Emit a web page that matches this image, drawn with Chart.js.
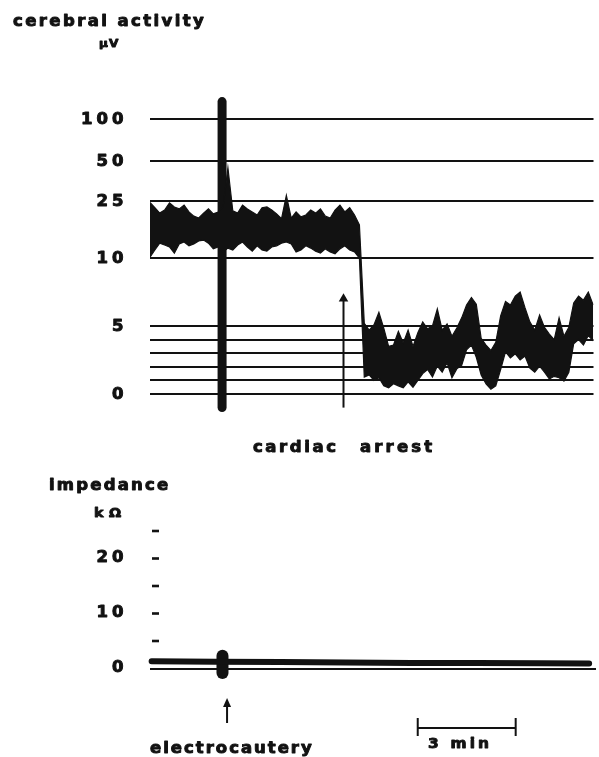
<!DOCTYPE html>
<html>
<head>
<meta charset="utf-8">
<script src="https://cdn.jsdelivr.net/npm/chart.js@4.4.1/dist/chart.umd.min.js"></script>
<style>
  html, body { margin: 0; padding: 0; background: #fff; }
  #wrap { position: relative; width: 599px; height: 757px; background: #fff; }
  canvas { position: absolute; left: 0; top: 0; }
</style>
</head>
<body>
<div id="wrap">
  <canvas id="eegChart" width="599" height="757"></canvas>
  <canvas id="impChart" width="599" height="757"></canvas>
</div>
<script>
const INK = "#121212";

// --- cerebral activity (µV), upper and lower edge of the trace, one sample every 0.15 min ---
const sampleStep = 0.15;
const activityHigh = [
  24.6, 23.2, 21.8, 22.6, 24.5, 23.4, 22.9, 23.9, 22.1, 21.0,
  20.5, 21.8, 22.9, 21.6, 22.1, 23.4, 46.0, 22.4, 21.8, 23.9,
  22.9, 22.1, 21.3, 23.2, 23.4, 22.6, 21.6, 20.3, 28.5, 20.5,
  22.1, 20.8, 21.3, 22.6, 21.8, 22.9, 21.0, 20.5, 22.6, 23.9,
  22.1, 23.2, 21.3, 18.7,
  5.2, 4.7, 5.1, 6.0, 4.85, 3.5, 3.6, 4.6, 3.75, 4.7,
  3.5, 4.5, 5.3, 4.8, 5.0, 6.25, 4.7, 5.15, 4.25, 4.85,
  5.6, 6.55, 7.1, 6.6, 4.1, 3.6, 3.2, 3.8, 5.75, 6.8,
  6.55, 7.2, 7.5, 6.35, 5.3, 4.7, 5.8, 4.9, 4.4, 4.0,
  5.6, 4.25, 4.9, 6.7, 7.2, 6.9, 7.5, 6.55
];
const activityLow = [
  10.2, 12.1, 13.9, 13.4, 12.9, 11.3, 13.7, 14.2, 13.2, 13.7,
  14.5, 14.7, 13.9, 12.4, 12.9, 11.6, 12.6, 12.1, 13.4, 14.2,
  12.9, 11.8, 13.2, 12.1, 11.8, 12.9, 13.2, 13.9, 14.2, 13.7,
  11.6, 12.1, 13.2, 12.6, 11.8, 11.3, 12.4, 11.6, 11.1, 12.4,
  13.2, 12.1, 11.6, 10.0,
  1.25, 1.4, 1.0, 1.2, 0.6, 0.45, 0.75, 0.6, 0.45, 0.9,
  0.5, 1.0, 1.5, 1.8, 1.25, 2.05, 1.6, 2.3, 1.2, 1.85,
  2.1, 3.25, 3.6, 2.7, 1.4, 0.75, 0.35, 0.6, 1.8, 3.1,
  2.65, 2.95, 2.5, 2.8, 1.9, 1.6, 2.05, 1.6, 1.1, 1.3,
  1.2, 0.95, 1.6, 3.7, 4.0, 3.6, 4.3, 3.9
];

// electrocautery artefact and cardiac arrest marker (min, µV)
const cauteryTime = 2.22;
const cauterySpan = [-1.0, 121];
const arrestTime = 5.96;
const arrestArrow = [-1.0, 7.0];

// µV axis: gridlines and their labels
const uvTicks = [0, 1, 2, 3, 4, 5, 10, 25, 50, 100];
const uvLabels = ["0", "", "", "", "", "5", "10", "25", "50", "100"];

// --- impedance (kΩ) ---
const impedanceTimes = [0.05, 2.0, 4.0, 6.0, 8.0, 10.0, 12.0, 13.45];
const impedanceValues = [1.3, 1.25, 1.2, 1.1, 1.0, 1.0, 0.95, 0.9];
const cauteryImpedance = [-0.8, 2.3];
const impedanceTicks = [0, 5, 10, 15, 20, 25];
const impedanceLabels = ["0", "", "10", "", "20", ""];

const cauteryArrowTime = 2.36;
const scaleBarStart = 8.2;
const scaleBarMinutes = 3;

// the µV axis is drawn in rows: 1 µV per row up to 5, compressed above
const uvRows = [0, 1, 2, 3, 4, 5, 10, 14.2, 17.1, 20.2];

function uvToRow(v) {
  const n = uvTicks.length;
  let i = 0;
  while (i < n - 2 && v > uvTicks[i + 1]) i++;
  const v0 = uvTicks[i], v1 = uvTicks[i + 1];
  const r0 = uvRows[i], r1 = uvRows[i + 1];
  return r0 + (v - v0) * (r1 - r0) / (v1 - v0);
}

class RowScale extends Chart.LinearScale {
  getPixelForValue(value) {
    if (value === null || value === undefined) return NaN;
    return super.getPixelForValue(uvToRow(value));
  }
}
RowScale.id = "rows";
RowScale.defaults = Chart.LinearScale.defaults;
Chart.register(RowScale);

const toPoints = (arr) => arr.map((v, i) => ({ x: i * sampleStep, y: v }));
const pairAt = (t, arr) => arr.map((v) => ({ x: t, y: v }));

// heavy lettering: glyphs widened a little, then tracked to fit
const STRETCH = 1.1;

function drawWide(ctx, text, left, baseline, size, gap) {
  ctx.save();
  ctx.font = "bold " + size + "px 'DejaVu Sans'";
  ctx.letterSpacing = "0px";
  const m = ctx.measureText(text);
  ctx.translate(left + m.actualBoundingBoxLeft * STRETCH, baseline);
  ctx.scale(STRETCH, 1);
  ctx.letterSpacing = (gap / STRETCH) + "px";
  ctx.fillStyle = INK;
  ctx.strokeStyle = INK;
  ctx.lineWidth = 0.9;
  ctx.lineJoin = "round";
  ctx.textAlign = "left";
  ctx.textBaseline = "alphabetic";
  ctx.fillText(text, 0, 0);
  ctx.strokeText(text, 0, 0);
  ctx.restore();
}

function inkWidth(ctx, text, size) {
  ctx.save();
  ctx.font = "bold " + size + "px 'DejaVu Sans'";
  ctx.letterSpacing = "0px";
  const m = ctx.measureText(text);
  ctx.restore();
  return (m.actualBoundingBoxLeft + m.actualBoundingBoxRight) * STRETCH;
}

function spreadText(ctx, text, left, right, baseline, size) {
  const n = Array.from(text).length;
  const gap = n > 1 ? (right - left - inkWidth(ctx, text, size)) / (n - 1) : 0;
  drawWide(ctx, text, left, baseline, size, gap);
}

function rightText(ctx, text, right, baseline, size, gap) {
  const n = Array.from(text).length;
  const total = inkWidth(ctx, text, size) + gap * (n - 1);
  drawWide(ctx, text, right - total, baseline, size, gap);
}

const timeAxis = { type: "linear", min: 0, max: 13.66, display: false };

// --- top panel: cerebral activity ---
const eegLabels = {
  id: "eegLabels",
  afterDraw(chart) {
    const ctx = chart.ctx;
    const y = chart.scales.y;
    uvTicks.forEach((v, i) => {
      if (uvLabels[i]) rightText(ctx, uvLabels[i], 123, y.getPixelForValue(v) + 5, 15, 4);
    });
    spreadText(ctx, "cerebral activity", 13, 204, 26, 15);
    spreadText(ctx, "µ V", 99, 119, 47, 11);
    spreadText(ctx, "cardiac", 253, 335, 452, 15);
    spreadText(ctx, "arrest", 360, 432, 452, 15);
  }
};

new Chart(document.getElementById("eegChart"), {
  type: "line",
  data: {
    datasets: [
      {
        data: toPoints(activityLow),
        borderColor: INK, borderWidth: 1.2, pointRadius: 0, fill: false
      },
      {
        data: toPoints(activityHigh),
        borderColor: INK, borderWidth: 1.2, pointRadius: 0,
        fill: "-1", backgroundColor: INK
      },
      {
        data: pairAt(cauteryTime, cauterySpan),
        borderColor: INK, borderWidth: 9, borderCapStyle: "round",
        pointRadius: 0, clip: false
      },
      {
        data: pairAt(arrestTime, arrestArrow),
        borderColor: INK, borderWidth: 2,
        pointStyle: "triangle", pointRadius: [0, 5.5], pointBorderWidth: 0,
        pointBackgroundColor: INK, clip: false
      }
    ]
  },
  options: {
    responsive: false,
    animation: false,
    devicePixelRatio: 1,
    events: [],
    layout: { padding: { top: 97, bottom: 346, left: 150, right: 3 } },
    plugins: { legend: { display: false }, tooltip: { enabled: false } },
    scales: {
      x: timeAxis,
      y: {
        type: "rows",
        min: -1.25,
        max: 21.84,
        bounds: "data",
        afterBuildTicks: (s) => { s.ticks = uvTicks.map((v) => ({ value: v })); },
        afterFit: (s) => { s.width = 0; },
        ticks: { display: false },
        border: { display: false },
        grid: { color: INK, lineWidth: 2, drawTicks: false }
      }
    }
  },
  plugins: [eegLabels]
});

// --- bottom panel: impedance ---
const impLabels = {
  id: "impLabels",
  afterDraw(chart) {
    const ctx = chart.ctx;
    const x = chart.scales.x;
    const y = chart.scales.y;
    ctx.save();
    ctx.fillStyle = INK;
    impedanceTicks.forEach((v, i) => {
      const py = y.getPixelForValue(v);
      if (v !== 0) ctx.fillRect(152, py - 1.3, 7, 2.6);
      if (impedanceLabels[i]) rightText(ctx, impedanceLabels[i], 123, py + 3, 15, 4);
    });

    // arrow under the electrocautery artefact
    const ax = x.getPixelForValue(cauteryArrowTime);
    ctx.fillRect(ax - 1, 705, 2, 18);
    ctx.beginPath();
    ctx.moveTo(ax, 698);
    ctx.lineTo(ax + 4, 707);
    ctx.lineTo(ax - 4, 707);
    ctx.closePath();
    ctx.fill();

    // 3 min scale bar
    const x0 = x.getPixelForValue(scaleBarStart);
    const x1 = x.getPixelForValue(scaleBarStart + scaleBarMinutes);
    ctx.fillRect(x0, 727, x1 - x0, 2);
    ctx.fillRect(x0 - 1, 718, 2, 18);
    ctx.fillRect(x1 - 1, 718, 2, 18);
    ctx.restore();

    spreadText(ctx, "impedance", 50, 168, 490, 15);
    spreadText(ctx, "k Ω", 95, 121, 517, 13);
    spreadText(ctx, "electrocautery", 150, 312, 753, 15);
    spreadText(ctx, "3 min", 428, 488, 748, 14);
  }
};

new Chart(document.getElementById("impChart"), {
  type: "line",
  data: {
    datasets: [
      {
        data: impedanceTimes.map((t, i) => ({ x: t, y: impedanceValues[i] })),
        borderColor: INK, borderWidth: 6, borderCapStyle: "round",
        pointRadius: 0, clip: false
      },
      {
        data: pairAt(cauteryTime, cauteryImpedance),
        borderColor: INK, borderWidth: 12, borderCapStyle: "round",
        pointRadius: 0, clip: false
      }
    ]
  },
  options: {
    responsive: false,
    animation: false,
    devicePixelRatio: 1,
    events: [],
    layout: { padding: { top: 520, bottom: 72, left: 150, right: 3 } },
    plugins: { legend: { display: false }, tooltip: { enabled: false } },
    scales: {
      x: timeAxis,
      y: {
        type: "linear",
        min: -3,
        max: 27,
        bounds: "data",
        afterBuildTicks: (s) => { s.ticks = impedanceTicks.map((v) => ({ value: v })); },
        afterFit: (s) => { s.width = 0; },
        ticks: { display: false },
        border: { display: false },
        grid: {
          drawTicks: false,
          lineWidth: 2,
          color: (c) => (c.tick && c.tick.value === 0 ? INK : "rgba(0,0,0,0)")
        }
      }
    }
  },
  plugins: [impLabels]
});
</script>
</body>
</html>
